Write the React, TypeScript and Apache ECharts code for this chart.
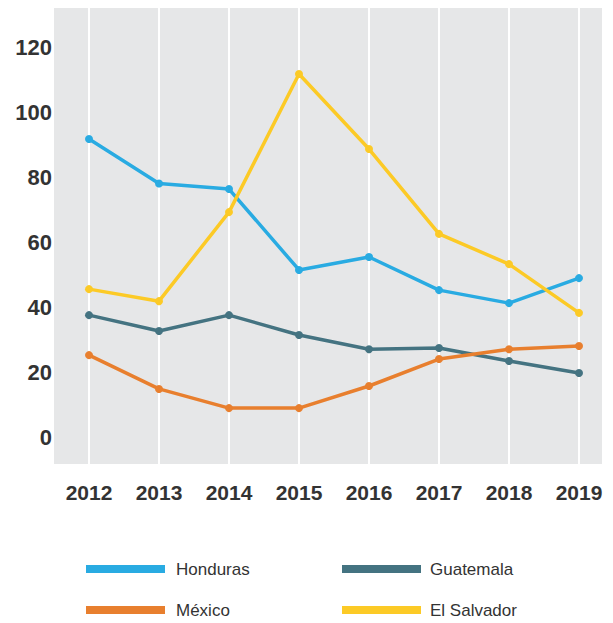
import React, { useEffect, useRef } from "react";
import * as echarts from "echarts";

const years = ["2012", "2013", "2014", "2015", "2016", "2017", "2018", "2019"];
const honduras = [91.7, 78, 76.3, 51.4, 55.4, 45.2, 41.2, 48.9];
const guatemala = [37.5, 32.6, 37.5, 31.4, 27, 27.4, 23.4, 19.7];
const mexico = [25.2, 14.8, 8.9, 8.9, 15.7, 24, 27, 28];
const elSalvador = [45.5, 41.8, 69.2, 111.7, 88.6, 62.5, 53.2, 38.2];
const yTicks = [0, 20, 40, 60, 80, 100, 120];

const FONT = "'Liberation Sans', Arial, sans-serif";

export default function App() {
  const ref = useRef<HTMLDivElement>(null);
  useEffect(() => {
    if (!ref.current) return;
    const chart = echarts.init(ref.current, undefined, { renderer: "svg" });
    const mk = (name: string, data: number[], color: string) => ({
      name,
      type: "line",
      data,
      symbol: "circle",
      symbolSize: 8,
      showSymbol: true,
      z: 5,
      lineStyle: { width: 3.5, color },
      itemStyle: { color },
    });
    const legendText = { fontSize: 17, color: "#333", lineHeight: 20, fontFamily: FONT };
    chart.setOption({
      animation: false,
      textStyle: { fontFamily: FONT },
      graphic: [
        {
          type: "rect",
          z: -10,
          silent: true,
          shape: { x: 54, y: 8, width: 548, height: 456 },
          style: { fill: "#e6e7e8" },
        },
      ],
      grid: { left: 89, right: 34, top: 8, bottom: 159 },
      xAxis: {
        type: "category",
        data: years,
        boundaryGap: false,
        axisLine: { show: false, onZero: false },
        axisTick: { show: false },
        axisLabel: {
          margin: 18,
          fontSize: 21,
          fontWeight: "bold",
          color: "#333",
          fontFamily: FONT,
        },
        splitLine: { show: true, lineStyle: { color: "#ffffff", width: 2 } },
      },
      yAxis: {
        type: "value",
        min: -8.3,
        max: 132,
        axisLine: { show: false },
        axisTick: { show: false },
        splitLine: { show: false },
        axisLabel: {
          customValues: yTicks,
          margin: 37,
          fontSize: 22,
          fontWeight: "bold",
          color: "#333",
          fontFamily: FONT,
        },
      },
      legend: [
        {
          data: ["Honduras", "México"],
          orient: "vertical",
          left: 86,
          top: 559,
          padding: 0,
          icon: "rect",
          itemWidth: 79,
          itemHeight: 8,
          itemGap: 21,
          textStyle: { ...legendText, padding: [0, 0, 0, 6] },
        },
        {
          data: ["Guatemala", "El Salvador"],
          orient: "vertical",
          left: 342,
          top: 559,
          padding: 0,
          icon: "rect",
          itemWidth: 79,
          itemHeight: 8,
          itemGap: 21,
          textStyle: { ...legendText, padding: [0, 0, 0, 4] },
        },
      ],
      series: [
        mk("Honduras", honduras, "#29abe2"),
        mk("Guatemala", guatemala, "#447381"),
        mk("México", mexico, "#e87f2e"),
        mk("El Salvador", elSalvador, "#fcca26"),
      ],
    });
    return () => chart.dispose();
  }, []);
  return <div ref={ref} style={{ width: 613, height: 623, position: "absolute", left: 0, top: 0 }} />;
}
